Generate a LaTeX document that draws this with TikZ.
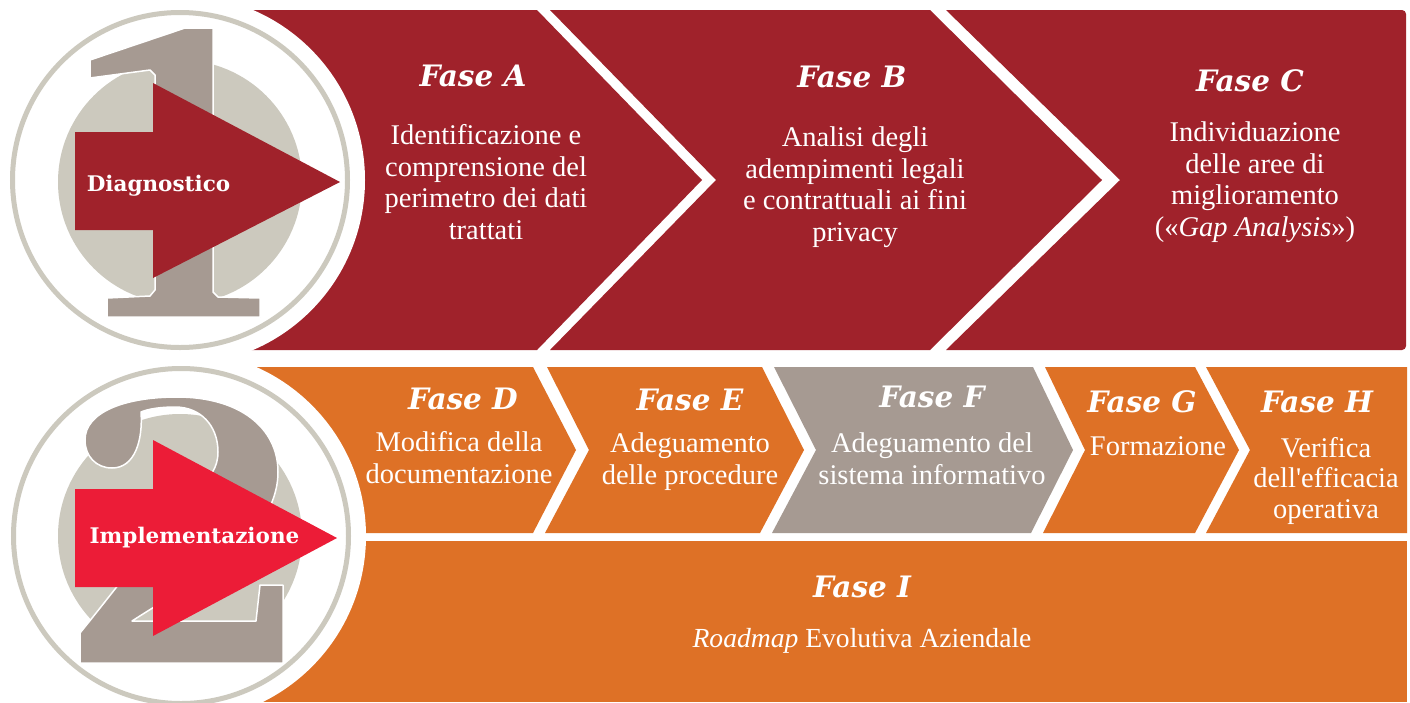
\documentclass[tikz,border=0pt]{standalone}
\usepackage{fontspec}
\setmainfont{Liberation Serif}
\newfontfamily\titlefont{DejaVu Serif}
\newfontfamily\rawserif[Ligatures=TeXOff]{Liberation Serif}
\definecolor{dred}{HTML}{A0222B}
\definecolor{orng}{HTML}{DE7126}
\definecolor{taupe}{HTML}{A69A92}
\definecolor{lgray}{HTML}{CCC9BE}
\definecolor{bred}{HTML}{EC1C37}
\begin{document}
\begin{tikzpicture}[x=1pt,y=-1pt,
  title/.style={text=white, font=\titlefont\bfseries\itshape\fontsize{29.5}{29.5}\selectfont, anchor=base, inner sep=0pt},
  body/.style={text=white, font=\fontsize{28.5}{31.5}\selectfont, align=center, anchor=base, inner sep=0pt},
  lbl/.style={text=white, font=\titlefont\bfseries\fontsize{21.5}{22}\selectfont, anchor=base, inner sep=0pt},
  ring/.style={draw=lgray, line width=5pt},
  numeral/.style={fill=taupe, draw=white, line width=1.5pt, line join=round}]
\useasboundingbox (0,0) rectangle (1410,702);
\fill[white] (0,0) rectangle (1410,702);
% ---- row 1
\fill[dred] (150,10) -- (537,10) -- (702,180) -- (537,350) -- (150,350) -- cycle;
\fill[dred] (550,10) -- (930,10) -- (1102,180) -- (930,350) -- (550,350) -- (716,180) -- cycle;
\fill[dred] (946,10) -- (1402,10) arc[start angle=90, end angle=0, radius=4pt] -- (1406,346) arc[start angle=0, end angle=-90, radius=4pt] -- (946,350) -- (1120,180) -- cycle;
% ---- row 2
\fill[orng] (150,367) -- (533,367) -- (576,450) -- (533,533) -- (150,533) -- cycle;
\fill[orng] (547,367) -- (762,367) -- (804,450) -- (760,533) -- (545,533) -- (589,450) -- cycle;
\fill[taupe] (774,367) -- (1033,367) -- (1073,450) -- (1031,533) -- (772,533) -- (816,450) -- cycle;
\fill[orng] (1045,367) -- (1195,367) -- (1239,450) -- (1195,533) -- (1043,533) -- (1085,450) -- cycle;
\fill[orng] (1206,367) -- (1407,367) -- (1407,533) -- (1206,533) -- (1250,450) -- cycle;
\fill[orng] (150,541) -- (1407,541) -- (1407,702) -- (150,702) -- cycle;
% ---- circle 1
\fill[white] (180,180) circle[radius=185pt];
\draw[ring] (180,180) circle[radius=167.5pt];
\fill[lgray] (180,182) circle[radius=122pt];
\filldraw[numeral]
  (90,60) -- (185,28) -- (213,28) -- (213,292) -- (218,297) -- (260,298) -- (260,317)
  -- (107,317) -- (107,298) -- (150,296) -- (155,290) -- (155,75) -- (150,70) -- (90,78) -- cycle;
\fill[dred] (75,132) -- (153,132) -- (153,83) -- (340,182) -- (153,278) -- (153,230) -- (75,230) -- cycle;
\node[lbl] (diag) at (158.5,191) {Diagnostico};
% ---- circle 2
\fill[white] (181,536) circle[radius=185pt];
\draw[ring] (181,536) circle[radius=167.5pt];
\fill[lgray] (180,536) circle[radius=122pt];
\filldraw[numeral]
  (85,440) .. controls (85,412) and (125,397) .. (177,397)
  .. controls (240,397) and (278,428) .. (278,472)
  .. controls (278,520) and (232,560) .. (185,588)
  .. controls (162,602) and (146,612) .. (132,621)
  -- (256,621) -- (260,585) -- (283,585) -- (283,663) -- (80,663) -- (80,633)
  .. controls (115,590) and (160,530) .. (195,492)
  .. controls (210,478) and (218,468) .. (218,452)
  .. controls (218,425) and (200,407) .. (175,407)
  .. controls (160,407) and (148,409) .. (141,412)
  .. controls (143,440) and (135,468) .. (112,468)
  .. controls (96,468) and (85,456) .. (85,440) -- cycle;
\fill[bred] (75,489) -- (153,489) -- (153,440) -- (337,538) -- (153,636) -- (153,587) -- (75,587) -- cycle;
\node[lbl] (impl) at (194.5,543) {Implementazione};
% ---- texts row 1 (multi-line nodes anchored at the last baseline)
\node[title] (ta) at (473,86) {Fase A};
\node[body] (ba) at (486,239) {Identificazione e\\comprensione del\\perimetro dei dati\\trattati};
\node[title] (tb) at (852,87) {Fase B};
\node[body] (bb) at (855,241) {Analisi degli\\adempimenti legali\\e contrattuali ai fini\\privacy};
\node[title] (tc) at (1250,91) {Fase C};
\node[body] (bc) at (1255,236) {Individuazione\\delle aree di\\miglioramento\\(«\textit{Gap Analysis}»)};
% ---- texts row 2
\node[title] (td) at (463,409) {Fase D};
\node[body] (bd) at (459,483) {Modifica della\\documentazione};
\node[title] (te) at (690,410) {Fase E};
\node[body] (be) at (690,484) {Adeguamento\\delle procedure};
\node[title] (tf) at (932,407) {Fase F};
\node[body] (bf) at (932,484) {Adeguamento del\\sistema informativo};
\node[title] (tg) at (1142,412) {Fase G};
\node[body] (bg) at (1158,455) {Formazione};
\node[title] (th) at (1317,412) {Fase H};
\node[body, font=\fontsize{28.5}{30.5}\selectfont] (bh) at (1326,518) {Verifica\\dell{\rawserif'}efficacia\\operativa};
\node[title] (ti) at (862,597) {Fase I};
\node[body, font=\fontsize{27.6}{30}\selectfont] (bi) at (862,647) {\textit{Roadmap} Evolutiva Aziendale};
\end{tikzpicture}
\end{document}
